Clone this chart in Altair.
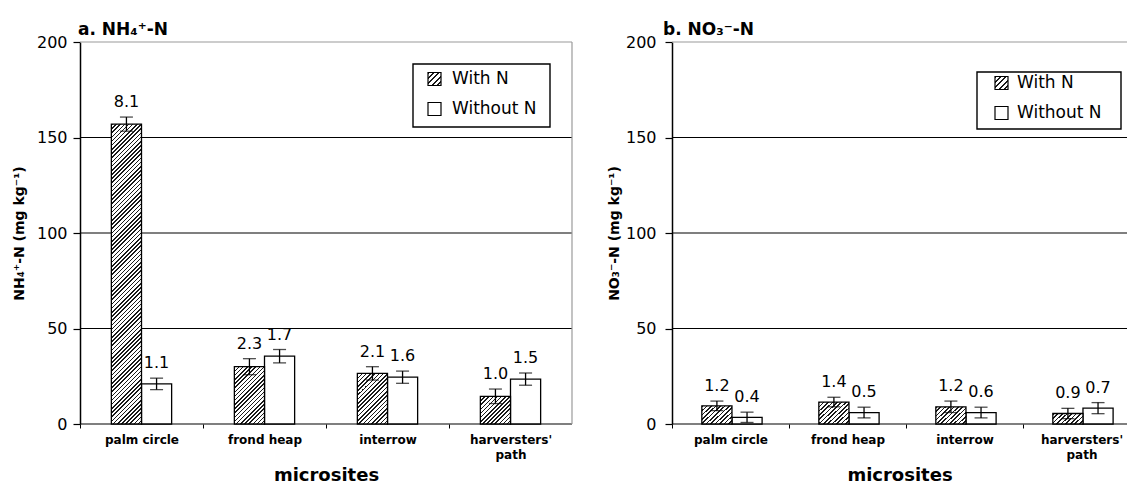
import altair as alt
import pandas as pd

# ---------------- data ----------------
SITES = ["palm circle", "frond heap", "interrow", "harversters'|path"]
TREATS = ["With N", "Without N"]

# a. NH4+-N
nh4_with = [157.0, 30.0, 26.5, 14.5]
nh4_with_err = [3.7, 4.2, 3.5, 3.8]
nh4_with_lbl = ["8.1", "2.3", "2.1", "1.0"]
nh4_without = [21.0, 35.5, 24.5, 23.5]
nh4_without_err = [3.0, 3.5, 3.2, 3.2]
nh4_without_lbl = ["1.1", "1.7", "1.6", "1.5"]

# b. NO3--N
no3_with = [9.5, 11.5, 9.0, 5.5]
no3_with_err = [2.5, 2.5, 3.0, 2.7]
no3_with_lbl = ["1.2", "1.4", "1.2", "0.9"]
no3_without = [3.5, 6.0, 6.0, 8.3]
no3_without_err = [2.7, 2.8, 2.8, 2.9]
no3_without_lbl = ["0.4", "0.5", "0.6", "0.7"]

Y_TICKS = [0, 50, 100, 150, 200]

FONT = "DejaVu Sans"
H = 382
PI = 0.51


def make_df(wv, we, wl, ov, oe, ol):
    rows = []
    for i, s in enumerate(SITES):
        rows.append(dict(site=s, treat="With N", value=wv[i],
                         lo=max(0.0, wv[i] - we[i]), hi=wv[i] + we[i], label=wl[i]))
        rows.append(dict(site=s, treat="Without N", value=ov[i],
                         lo=max(0.0, ov[i] - oe[i]), hi=ov[i] + oe[i], label=ol[i]))
    return pd.DataFrame(rows)


def hatch(w, h, period=4.2, frac=0.38, dark="#1a1a1a"):
    """diagonal '/' hatch as a linear gradient in bounding-box units"""
    n = max(1, round((w + h) / period))
    q = (w + h) / (w * w + h * h)
    stops = []
    for k in range(n):
        a = round(k / n, 6)
        b = round((k + frac) / n, 6)
        c = round((k + 1) / n, 6)
        stops += [{"offset": a, "color": dark}, {"offset": b, "color": dark},
                  {"offset": b, "color": "white"}, {"offset": c, "color": "white"}]
    return {"gradient": "linear", "x1": 0, "y1": 0,
            "x2": q * w, "y2": q * h, "stops": stops}


def panel(df, width, step, title, title_dx, ytitle, ytitle_pad, ylab_pad,
          legend, border):
    n = len(SITES)
    band = step * (1 - PI)
    barw = band / 2.0
    # band-scale padding/alignment giving the wanted category step within width
    p_outer = (width / step - n + PI) / 2.0
    s_align = (step * PI / 2.0) / (width - step * (n - PI))

    xaxis = alt.Axis(title="microsites", titleFont=FONT, titleFontSize=18,
                     titleFontWeight="bold", titleColor="black", titlePadding=6,
                     labelFont=FONT, labelFontSize=12, labelFontWeight="bold",
                     labelColor="black", labelAngle=0, labelPadding=6,
                     labelExpr="split(datum.label, '|')", labelLineHeight=15,
                     tickSize=4, tickColor="black", tickOffset=-step / 2,
                     labelOffset=step / 2, domain=False, grid=False)
    yaxis = alt.Axis(values=Y_TICKS, title=ytitle, titleFont=FONT,
                     titleFontSize=14, titleFontWeight="bold", titleColor="black",
                     titlePadding=ytitle_pad, labelFont=FONT, labelFontSize=16,
                     labelColor="black", labelPadding=ylab_pad, tickSize=7,
                     tickColor="black", tickWidth=1.2, domainColor="black",
                     domainWidth=1.5, grid=False)

    xenc = alt.X("site:N", axis=xaxis,
                 scale=alt.Scale(domain=SITES, paddingInner=PI,
                                 paddingOuter=p_outer, align=s_align))
    xoff = alt.XOffset("treat:N", scale=alt.Scale(domain=TREATS,
                                                  paddingInner=0, paddingOuter=0))
    yscale = alt.Scale(domain=[0, 200], nice=False)

    def yenc(f):
        return alt.Y(f"{f}:Q", scale=yscale, axis=yaxis)

    layers = []
    # horizontal gridlines at the y tick values (top one grey, as a frame)
    layers.append(
        alt.Chart(pd.DataFrame({"g": Y_TICKS}))
        .mark_rule(strokeWidth=1.2)
        .encode(y=alt.Y("g:Q", scale=yscale, axis=yaxis),
                x=alt.value(0), x2=alt.value(width),
                color=alt.condition(alt.datum.g == 200, alt.value("#9a9a9a"),
                                    alt.value("black")))
    )

    base = alt.Chart(df)
    layers.append(
        base.transform_filter(alt.datum.treat == "Without N")
        .mark_bar(fill="white", stroke="black", strokeWidth=1.3)
        .encode(x=xenc, xOffset=xoff, y=yenc("value"))
    )
    wdf = df[df.treat == "With N"]
    for s, v in zip(wdf.site, wdf.value):
        hpx = v / 200.0 * H
        layers.append(
            base.transform_filter((alt.datum.treat == "With N") & (alt.datum.site == s))
            .mark_bar(fill=hatch(barw, hpx), stroke="black", strokeWidth=1.3)
            .encode(x=xenc, xOffset=xoff, y=yenc("value"))
        )
    layers.append(
        base.mark_rule(color="black", strokeWidth=1.3)
        .encode(x=xenc, xOffset=xoff, y=yenc("lo"), y2="hi:Q")
    )
    for f in ["lo", "hi"]:
        layers.append(
            base.mark_tick(color="black", thickness=1.3, size=13)
            .encode(x=xenc, xOffset=xoff, y=yenc(f))
        )
    layers.append(
        base.mark_text(font=FONT, fontSize=16, dy=-15, baseline="middle",
                       color="black")
        .encode(x=xenc, xOffset=xoff, y=yenc("hi"), text="label:N")
    )

    # manual legend (box, swatches, labels)
    bx0, bx1, by0, by1, sx, tx, r1, r2 = legend
    dummy = alt.Chart(pd.DataFrame({"k": [0]}))
    layers.append(dummy.mark_rect(fill="white", stroke="black", strokeWidth=1.4)
                  .encode(x=alt.value(bx0), x2=alt.value(bx1),
                          y=alt.value(by0), y2=alt.value(by1)))
    layers.append(dummy.mark_rect(fill=hatch(13, 13, period=5.5), stroke="black",
                                  strokeWidth=1.2)
                  .encode(x=alt.value(sx), x2=alt.value(sx + 13),
                          y=alt.value(r1 - 6.5), y2=alt.value(r1 + 6.5)))
    layers.append(dummy.mark_rect(fill="white", stroke="black", strokeWidth=1.2)
                  .encode(x=alt.value(sx), x2=alt.value(sx + 13),
                          y=alt.value(r2 - 6.5), y2=alt.value(r2 + 6.5)))
    for txt, r in [(TREATS[0], r1), (TREATS[1], r2)]:
        layers.append(dummy.mark_text(align="left", baseline="middle", font=FONT,
                                      fontSize=17, color="black")
                      .encode(x=alt.value(tx), y=alt.value(r), text=alt.value(txt)))
    if border:
        layers.append(dummy.mark_rule(color="#9a9a9a", strokeWidth=1.2)
                      .encode(x=alt.value(width), y=alt.value(0), y2=alt.value(H)))

    return alt.layer(*layers).properties(
        width=width, height=H,
        title=alt.TitleParams(title, anchor="start", frame="group", font=FONT,
                              fontSize=17, fontWeight="bold", color="black",
                              offset=-5, dx=title_dx),
    )


df_a = make_df(nh4_with, nh4_with_err, nh4_with_lbl,
               nh4_without, nh4_without_err, nh4_without_lbl)
df_b = make_df(no3_with, no3_with_err, no3_with_lbl,
               no3_without, no3_without_err, no3_without_lbl)

left = panel(df_a, 492, 123, "a. NH\u2084\u207a-N", -2,
             "NH\u2084\u207a-N (mg kg\u207b\u00b9)", 10, 6,
             (333, 470, 22, 85, 348, 372, 37, 67), True)
right = panel(df_b, 455, 117, "b. NO\u2083\u207b-N", -9,
              "NO\u2083\u207b-N (mg kg\u207b\u00b9)", 4, 9,
              (305, 449, 30, 87, 323, 345, 41, 71), False)

chart = (
    alt.hconcat(left, right, spacing=34)
    .properties(padding={"left": 4, "top": 13, "right": 0, "bottom": 0})
    .configure_view(stroke=None)
)

chart.save("out.html", embed_options={"renderer": "svg", "actions": False})
